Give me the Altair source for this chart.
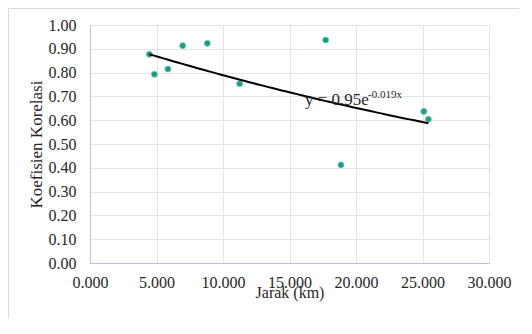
import altair as alt
import numpy as np
import pandas as pd

# Data
jarak = [4.46, 4.84, 5.86, 6.97, 8.82, 11.25, 17.72, 18.87, 25.10, 25.44]
koefisien = [0.877, 0.793, 0.815, 0.913, 0.923, 0.753, 0.937, 0.412, 0.637, 0.604]
x_ticks = [0, 5, 10, 15, 20, 25, 30]
y_ticks = [0.0, 0.1, 0.2, 0.3, 0.4, 0.5, 0.6, 0.7, 0.8, 0.9, 1.0]
eq_main = ["y = 0.95e"]
eq_sup = ["-0.019x"]

FONT = "Liberation Serif"
W, H = 399, 238
PAD = {"left": 82, "top": 17, "right": 30, "bottom": 55}

df = pd.DataFrame({"Jarak": jarak, "Koef": koefisien})

# Exponential trendline fitted to the points (least squares on ln y)
slope, icpt = np.polyfit(np.array(jarak), np.log(np.array(koefisien)), 1)
xs = np.linspace(min(jarak), max(jarak), 60)
trend_df = pd.DataFrame({"Jarak": xs, "Koef": np.exp(icpt) * np.exp(slope * xs)})


def x_enc():
    return alt.X(
        "Jarak:Q",
        scale=alt.Scale(domain=[0, 30], nice=False, zero=False),
        axis=alt.Axis(
            values=x_ticks, format=".3f", title="Jarak (km)",
            labelPadding=11, titleBaseline="alphabetic", titleY=34,
        ),
    )


def y_enc():
    return alt.Y(
        "Koef:Q",
        scale=alt.Scale(domain=[0, 1], nice=False, zero=False),
        axis=alt.Axis(
            values=y_ticks, format=".2f", title="Koefisien Korelasi",
            labelPadding=14, titlePadding=3, titleFontSize=17,
        ),
    )


points = alt.Chart(df).mark_circle(size=38, color="#16a07a", opacity=1,
                                   stroke="#8cc8dc", strokeWidth=0.8).encode(x=x_enc(), y=y_enc())

trend = alt.Chart(trend_df).mark_line(color="black", strokeWidth=2).encode(
    x=x_enc(), y=y_enc())

eq1 = alt.Chart(pd.DataFrame({"t": eq_main})).mark_text(
    fontSize=17, align="left", baseline="alphabetic", color="#262626", font=FONT
).encode(text="t:N", x=alt.value(215), y=alt.value(80))

eq2 = alt.Chart(pd.DataFrame({"t": eq_sup})).mark_text(
    fontSize=11, align="left", baseline="alphabetic", color="#262626", font=FONT
).encode(text="t:N", x=alt.value(278), y=alt.value(73))

border_left = alt.Chart(pd.DataFrame({"a": [0]})).mark_rule(
    color="#d9d9d9", strokeWidth=1
).encode(x=alt.value(-PAD["left"] + 0.5), y=alt.value(-PAD["top"] + 0.5),
         y2=alt.value(H + PAD["bottom"]))
border_top = alt.Chart(pd.DataFrame({"a": [0]})).mark_rule(
    color="#d9d9d9", strokeWidth=1
).encode(y=alt.value(-PAD["top"] + 0.5), x=alt.value(-PAD["left"] + 0.5),
         x2=alt.value(W + PAD["right"]))

chart = alt.layer(points, trend, eq1, eq2, border_left, border_top).properties(
    width=W, height=H,
    autosize=alt.AutoSizeParams(type="none"),
    padding=PAD,
    background="white",
).configure_view(strokeWidth=0).configure_axis(
    labelFont=FONT, titleFont=FONT, labelFontSize=16, titleFontSize=16,
    titleFontWeight="normal", labelColor="#262626", titleColor="#262626",
    labelOverlap=False, labelFlush=False, ticks=False,
    gridColor="#e1e5eb", domainColor="#b9c3d3",
)

chart.save("out.html", embed_options={"renderer": "svg", "actions": False})
